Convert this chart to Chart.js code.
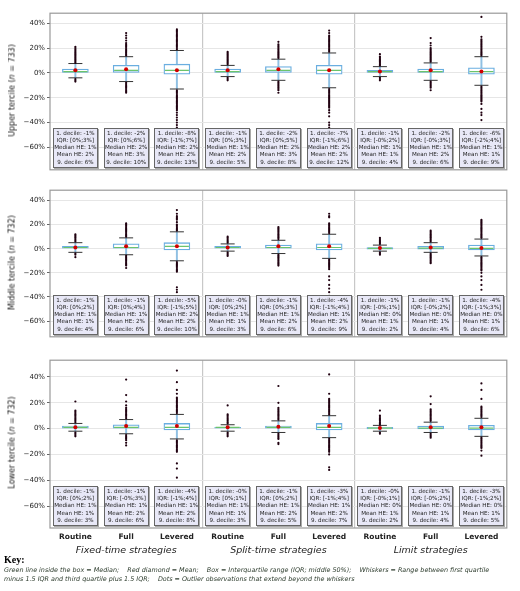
<!DOCTYPE html>
<html><head><meta charset="utf-8">
<script src="https://cdn.jsdelivr.net/npm/chart.js@4.4.1/dist/chart.umd.min.js"></script>
<style>
body{margin:0;width:520px;height:591px;background:#fff;font-family:"DejaVu Sans",sans-serif;position:relative;overflow:hidden}
.row{position:absolute;left:0;width:520px}
.ylab{position:absolute;left:3px;font-size:8px;color:#111;transform:rotate(-90deg);transform-origin:center;white-space:nowrap;text-align:center;width:200px}
.tb{position:absolute;width:43px;background:#e8e8f7;border:1px solid #666;box-shadow:1px 1px 0 #aaa;font-size:5.6px;line-height:7.2px;text-align:center;color:#222;white-space:nowrap;padding:1px 0}
.grp{position:absolute;top:544px;font-size:9.5px;font-style:italic;color:#222;width:160px;text-align:center}
.key{position:absolute;left:4px;top:554px;font-family:"Liberation Serif",serif;font-weight:bold;font-size:10px}
.keyt{position:absolute;left:4px;top:566px;font-size:6.4px;line-height:9px;font-style:italic;color:#2b3a2b;width:500px}
</style></head><body>
<script>
const categories=["Routine","Full","Levered","Routine","Full","Levered","Routine","Full","Levered"];
const groups=["Fixed-time strategies","Split-time strategies","Limit strategies"];
const rowNames=["Upper tercile","Middle tercile","Lower tercile"];
const rowN=[733,732,732];
// per row: q1, median, q3, lower whisker, upper whisker, mean
const q1=[[0,0,-1,0,0,-1,0,0,-1],[0,0,-1,0,0,-1,-0.3,-0.3,-1],[0,0,-1,0,0,-1,-0.3,-0.3,-1]];
const med=[[1,2,2,1,2,2,1,1,1],[1,1,2,1,1,1,0.3,0.5,0.3],[1,1,1,1,1,1,0.3,0.3,0.3]];
const q3=[[3,6,7,3,5,6,2,3,4],[2,4,5,2,3,4,1,2,3],[2,3,4,1,2,4,1,2,2.5]];
const lw=[[-4,-7,-13,-3,-6,-12,-3,-6,-10],[-3,-5,-10,-2,-4,-8,-2,-3,-6],[-2,-4,-8,-2,-3,-7,-2,-3,-6]];
const hw=[[7.5,13,18,6,11,16,5,8,13],[5,9,14,4,7,12,3,5,8],[4,7,11,3,6,10,2.5,5,8]];
const mean=[[2,3,2,2,3,2,1,2,1],[1,2,2,1,2,2,0.5,1,0.5],[1,2,2,1,1.5,2,0.5,1,1]];
const outliers=[
[[8,9,10,11,12,13,14,15,16,17,18,19,20,21,-5,-6,-7],
 [14,15,16,17,18,19,20,21,22,23,24,26,28,30,32,-8,-9,-10,-11,-12,-13,-14,-15,-16],
 [19,20,21,22,23,24,25,26,27,28,29,30,31,32,33,34,35,-14,-15,-16,-17,-18,-19,-20,-21,-22,-23,-24,-25,-26,-27,-28,-29,-30,-32,-34,-36,-38,-40,-42,-44,-46,-51],
 [7,8,9,10,11,12,13,14,15,16,17,-4,-5,-6],
 [12,13,14,15,16,17,18,19,20,21,22,23,25,-7,-8,-9,-10,-11,-12,-13,-14,-16],
 [17,18,19,20,21,22,23,24,25,26,27,28,29,30,32,34,-13,-14,-15,-16,-17,-18,-19,-20,-21,-22,-23,-24,-25,-26,-27,-28,-30,-32,-35,-40,-42,-44],
 [6,7,8,9,10,11,12,13,15,-4,-5,-6],
 [9,10,11,12,13,14,15,16,17,18,19,20,22,24,28,-7,-8,-9,-10,-11,-12,-14],
 [14,15,16,17,18,19,20,21,22,23,24,25,26,27,29,45,-11,-12,-13,-14,-15,-16,-17,-18,-19,-20,-21,-22,-23,-25,-29,-32,-34,-38]],
[[6,7,8,9,10,11,12,-4,-5,-7],
 [10,11,12,13,14,15,16,17,18,19,20,21,-6,-7,-8,-9,-10,-11,-12,-13,-14,-16],
 [15,16,17,18,19,20,22,24,25,26,27,29,32,-11,-12,-13,-14,-15,-16,-17,-18,-19,-32,-34,-36,-43],
 [5,6,7,8,9,10,-3,-4,-5,-6],
 [8,9,10,11,12,13,14,15,16,17,18,-5,-6,-7,-8,-9,-10,-11,-12,-13,-14],
 [13,14,15,16,17,18,19,20,21,26,27,29,-9,-10,-11,-12,-13,-14,-15,-16,-17,-23,-26,-30,-33,-36,-39],
 [4,5,6,7,8,9,-3,-4,-5],
 [6,7,8,9,10,11,12,13,14,15,-4,-5,-6,-7,-8,-9,-10,-11,-12],
 [9,10,11,12,13,14,15,16,17,18,19,20,21,22,23,24,-7,-8,-9,-10,-11,-12,-13,-14,-15,-16,-17,-18,-20,-23,-26,-30,-34]],
[[5,6,7,8,9,10,11,12,13,14,21,-3,-4,-5,-6],
 [8,9,10,11,12,13,14,15,16,18,21,26,38,-5,-6,-7,-8,-9,-11,-13],
 [12,13,14,15,16,17,18,19,20,21,22,23,24,27,30,36,45,-9,-10,-11,-12,-13,-14,-15,-16,-17,-18,-27,-31,-38],
 [4,5,6,7,8,9,10,11,18,-3,-4,-5,-6],
 [7,8,9,10,11,12,13,14,15,16,20,33,-4,-5,-6,-7,-8,-11,-12],
 [11,12,13,14,15,16,17,18,19,20,21,22,23,27,42,-8,-9,-10,-11,-12,-13,-14,-15,-16,-17,-18,-20,-30,-32],
 [3,4,5,6,7,8,9,10,14,-3,-4],
 [6,7,8,9,10,11,12,13,14,15,19,25,-4,-5,-6,-7],
 [9,10,11,12,13,14,15,16,17,23,30,35,-7,-8,-9,-10,-11,-12,-13,-14,-15,-17,-21]]];
const dec1=[["-1","-2","-8","-1","-2","-7","-1","-2","-6"],["-1","-1","-5","-0","-1","-4","-1","-1","-4"],["-1","-1","-4","-0","-1","-3","-0","-1","-3"]];
const iqr=[["[0%;3%]","[0%;6%]","[-1%;7%]","[0%;3%]","[0%;5%]","[-1%;6%]","[-0%;2%]","[-0%;3%]","[-2%;4%]"],
["[0%;2%]","[0%;4%]","[-1%;5%]","[0%;2%]","[0%;3%]","[-1%;4%]","[-0%;1%]","[-0%;2%]","[-1%;3%]"],
["[0%;2%]","[-0%;3%]","[-1%;4%]","[0%;1%]","[0%;2%]","[-1%;4%]","[-0%;1%]","[-0%;2%]","[-1%;2%]"]];
const medHE=[[1,2,2,1,2,2,1,1,1],[1,1,2,1,1,1,0,0,0],[1,1,1,1,1,1,0,0,0]];
const meanHE=[[2,3,2,2,3,2,1,2,1],[1,2,2,1,2,2,1,1,1],[1,2,2,1,2,2,1,1,1]];
const dec9=[[6,10,13,5,8,12,4,6,9],[4,6,10,3,6,9,2,4,6],[3,6,8,3,5,7,2,4,5]];
const yTicks=[40,20,0,-20,-40,-60];

const keys=categories.map((c,i)=>'c'+i);
const rowTop=[0,177,347],rowH=[183,173,200],yMax=[48,48.5,53],yMin=[-78,-73,-77];
const frame={id:'frame',afterDraw(c){const a=c.chartArea,x=c.ctx;x.save();x.strokeStyle='#999';x.lineWidth=1.2;x.strokeRect(a.left,a.top,a.right-a.left,a.bottom-a.top);x.restore();}};
for(let r=0;r<3;r++){
  const div=document.createElement('div');div.className='row';div.style.top=rowTop[r]+'px';div.style.height=rowH[r]+'px';
  const cv=document.createElement('canvas');cv.width=520;cv.height=rowH[r];cv.style.width='520px';cv.style.height=rowH[r]+'px';
  div.appendChild(cv);document.body.appendChild(div);
  const pts=(arr)=>arr.map((v,i)=>({x:keys[i],y:v}));
  const out=[];outliers[r].forEach((a,i)=>a.forEach(v=>out.push({x:keys[i],y:v})));
  const last=r===2;
  const ch=new Chart(cv,{type:'bar',data:{labels:keys,datasets:[
    {type:'bar',data:lw[r].map((v,i)=>[v,hw[r][i]]),backgroundColor:'#8fc0e3',barThickness:1.3,grouped:false,order:6},
    {type:'bar',data:q1[r].map((v,i)=>[v,q3[r][i]]),backgroundColor:'#ffffff',borderColor:'#6aaee0',borderWidth:1.3,borderSkipped:false,barThickness:26,grouped:false,order:5},
    {type:'line',showLine:false,data:pts(med[r]),pointStyle:'line',pointRadius:12,pointBorderColor:'#6cc46c',pointBorderWidth:1.2,order:4},
    {type:'line',showLine:false,data:pts(lw[r]).concat(pts(hw[r])),pointStyle:'line',pointRadius:7,pointBorderColor:'#333',pointBorderWidth:1,order:3},
    {type:'line',showLine:false,data:out,pointRadius:1.1,pointBackgroundColor:'#200010',pointBorderWidth:0,order:2},
    {type:'line',showLine:false,data:pts(mean[r]),pointRadius:2,pointBackgroundColor:'#d00000',pointBorderWidth:0,order:1}
  ]},
  options:{responsive:false,animation:false,events:[],layout:{padding:{left:14,right:2,top:r===0?3:2,bottom:0}},
    plugins:{legend:{display:false},tooltip:{enabled:false}},
    scales:{
      x:{offset:true,grid:{offset:true,color:c=>(c.index===3||c.index===6)?'#c8c8c8':'rgba(0,0,0,0)',lineWidth:1.2,drawTicks:false},border:{display:false},
         ticks:{display:last,color:'#222',font:{family:'DejaVu Sans',size:7.5,weight:'bold'},padding:5,callback:(v,i)=>categories[i]}},
      y:{min:yMin[r],max:yMax[r],border:{display:false},grid:{color:'#e6e6e6',tickLength:3,tickColor:'#666'},
         afterBuildTicks:s=>{s.ticks=yTicks.map(v=>({value:v}));},
         afterFit:s=>{s.width=36;},
         ticks:{color:'#222',font:{family:'DejaVu Sans',size:7},padding:2,callback:v=>(v<0?'\u2212'+(-v):v)+'%'}}
    }},plugins:[frame]});
  const a=ch.chartArea;
  const yl=document.createElement('div');yl.className='ylab';
  yl.innerHTML=rowNames[r]+' (<i>n</i> = '+rowN[r]+')';
  yl.style.top=(rowTop[r]+(a.top+a.bottom)/2-6)+'px';yl.style.left=(12-100)+'px';
  document.body.appendChild(yl);
  for(let i=0;i<9;i++){
    const t=document.createElement('div');t.className='tb';
    t.innerHTML='1. decile: '+dec1[r][i]+'%<br>IQR: '+iqr[r][i]+'<br>Median HE: '+medHE[r][i]+'%<br>Mean HE: '+meanHE[r][i]+'%<br>9. decile: '+dec9[r][i]+'%';
    const x=ch.scales.x.getPixelForValue(i);
    t.style.left=(x-22.5)+'px';t.style.top=(rowTop[r]+a.bottom-42)+'px';
    document.body.appendChild(t);
  }
  if(last){groups.forEach((g,k)=>{const x=ch.scales.x.getPixelForValue(k*3+1);const d=document.createElement('div');d.className='grp';d.textContent=g;d.style.left=(x-80)+'px';document.body.appendChild(d);});}
}
const k=document.createElement('div');k.className='key';k.textContent='Key:';document.body.appendChild(k);
const kt=document.createElement('div');kt.className='keyt';
kt.innerHTML='Green line inside the box = Median;&nbsp;&nbsp;&nbsp; Red diamond = Mean;&nbsp;&nbsp;&nbsp; Box = Interquartile range (IQR; middle 50%);&nbsp;&nbsp;&nbsp; Whiskers = Range between first quartile minus 1.5 IQR and third quartile plus 1.5 IQR;&nbsp;&nbsp;&nbsp; Dots = Outlier observations that extend beyond the whiskers';
document.body.appendChild(kt);
</script>
</body></html>
